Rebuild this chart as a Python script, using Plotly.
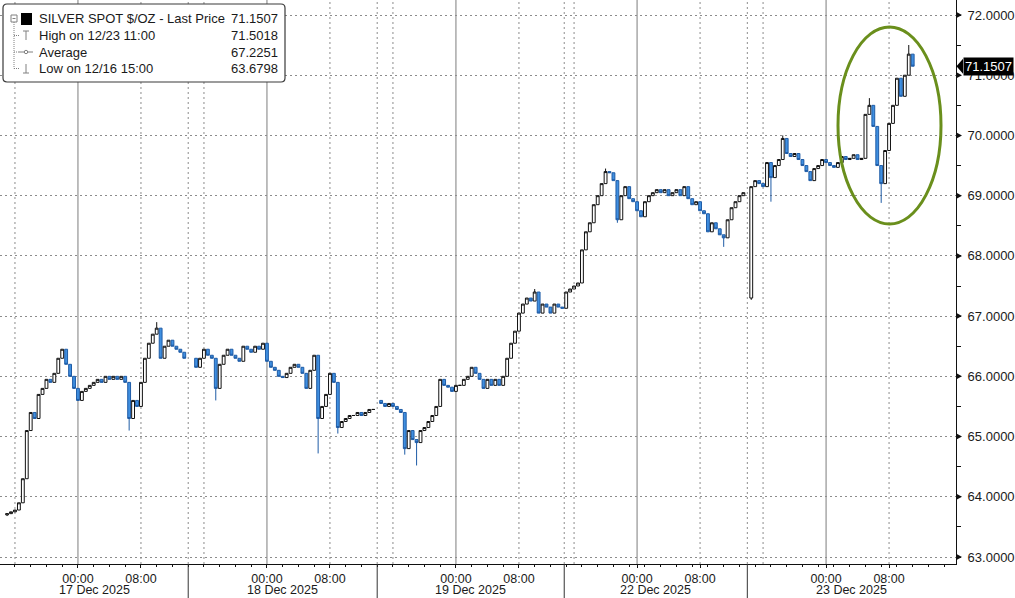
import plotly.graph_objects as go

# ---------------- data ----------------
# Time axis is "trading hours" since 17 Dec 2025 00:00 (weekend compressed), 30-min bars
BAR_HOURS = 0.5
SESSION_STARTS = [-9.0, 15.0, 38.5, 62.0, 85.5]
SESSION_OPENS = [63.70, 66.30, 65.60, 67.13, 67.30]

closes_17dec = [63.72, 63.75, 63.78, 63.90, 64.30, 65.10, 65.40, 65.30, 65.70, 65.80,
                65.95, 65.90, 66.05, 66.30, 66.45, 66.20, 66.00, 65.80, 65.60, 65.75,
                65.80, 65.85, 65.90, 65.95, 65.90, 66.00, 65.95, 66.00, 65.95, 66.00,
                65.90, 65.30, 65.60, 65.50, 65.90, 66.30, 66.55, 66.70, 66.80, 66.30,
                66.50, 66.60, 66.50, 66.45, 66.40, 66.30]
closes_18dec = [66.15, 66.30, 66.45, 66.35, 66.30, 65.80, 66.20, 66.35, 66.45, 66.35,
                66.30, 66.25, 66.50, 66.45, 66.40, 66.50, 66.45, 66.55, 66.25, 66.15,
                66.10, 66.00, 65.98, 66.05, 66.15, 66.20, 66.15, 66.05, 65.80, 66.10,
                66.35, 65.30, 65.50, 65.70, 66.05, 65.90, 65.15, 65.25, 65.30, 65.35,
                65.35, 65.40, 65.35, 65.40, 65.45, 65.45]
closes_19dec = [65.55, 65.50, 65.55, 65.50, 65.45, 65.40, 64.80, 65.10, 64.95, 64.90,
                65.10, 65.15, 65.25, 65.35, 65.50, 65.95, 65.85, 65.82, 65.75, 65.85,
                65.85, 65.95, 66.00, 66.15, 66.05, 65.95, 65.80, 65.95, 65.85, 65.95,
                65.85, 66.00, 66.30, 66.55, 66.75, 67.05, 67.20, 67.30, 67.25, 67.40,
                67.05, 67.20, 67.15, 67.05, 67.20, 67.15, 67.13]
closes_22dec = [67.40, 67.45, 67.50, 67.55, 68.10, 68.40, 68.55, 68.85, 69.00, 69.20,
                69.40, 69.38, 69.25, 68.60, 69.00, 69.15, 68.95, 68.90, 68.75, 68.65,
                68.90, 69.00, 69.05, 69.10, 69.05, 69.10, 69.00, 69.05, 69.10, 69.00,
                69.15, 68.95, 68.85, 68.90, 68.75, 68.70, 68.40, 68.55, 68.45, 68.35,
                68.30, 68.60, 68.80, 68.90, 69.00, 69.05]
closes_23dec = [69.15, 69.25, 69.20, 69.15, 69.55, 69.30, 69.50, 69.60, 69.95, 69.70,
                69.65, 69.70, 69.60, 69.50, 69.40, 69.25, 69.45, 69.50, 69.60, 69.55,
                69.50, 69.47, 69.55, 69.65, 69.60, 69.62, 69.68, 69.60, 69.62, 70.35,
                70.50, 70.15, 69.50, 69.20, 69.75, 70.20, 70.50, 70.95, 70.65, 71.00,
                71.35, 71.15]
SESSION_CLOSES = [closes_17dec, closes_18dec, closes_19dec, closes_22dec, closes_23dec]

LOW_WICKS = {-9.0: 63.68, 6.5: 65.10, 17.5: 65.60, 30.5: 64.72, 33.0: 65.05,
             41.5: 64.70, 43.0: 64.52, 68.5: 68.55, 82.0: 68.15, 85.5: 67.27,
             88.0: 68.90, 102.0: 68.88}
HIGH_WICKS = {10.0: 66.90, 58.0: 67.45, 67.0: 69.45, 89.5: 70.00, 100.5: 70.62,
              105.5: 71.5018}

TICK_TIMES = [0, 8, 24, 32, 48, 56, 71, 79, 95, 103]
TICK_TEXT = ["00:00", "08:00"] * 5
MIDNIGHTS = [0, 24, 48, 71, 95]
GRID_TIMES = [-8, 8, 16, 32, 40, 56, 63, 79, 87, 103]
DAY_BREAKS = [14, 38, 61.75, 85]
DAY_LABELS = ["17 Dec 2025", "18 Dec 2025", "19 Dec 2025", "22 Dec 2025", "23 Dec 2025"]
PRICE_TICKS = [63, 64, 65, 66, 67, 68, 69, 70, 71, 72]

TITLE = "SILVER SPOT $/OZ - Last Price"
LAST_PRICE = 71.1507
HIGH_LABEL, HIGH_PRICE = "High on 12/23 11:00", 71.5018
AVG_LABEL, AVG_PRICE = "Average", 67.2251
LOW_LABEL, LOW_PRICE = "Low on 12/16 15:00", 63.6798

X_RANGE = [-9.9, 111.5]
Y_RANGE = [62.884, 72.249]

# ---------------- build OHLC ----------------
xs, op, hi, lo, cl = [], [], [], [], []
for start, first_open, closes in zip(SESSION_STARTS, SESSION_OPENS, SESSION_CLOSES):
    prev = first_open
    for i, c in enumerate(closes):
        t = round(start + i * BAR_HOURS, 2)
        xs.append(t)
        op.append(prev)
        cl.append(c)
        hi.append(max(prev, c, HIGH_WICKS.get(t, c)))
        lo.append(min(prev, c, LOW_WICKS.get(t, c)))
        prev = c

W, H = 1015, 598
ML, MR, MT, MB = 0, 59, 0, 34
PW, PH = W - ML - MR, H - MT - MB
FONT = "Liberation Sans, Arial, sans-serif"
TXT = "#1a1a1a"


def px(x):
    return x / PW


def py(y):
    return 1 - y / PH


fig = go.Figure()
fig.add_trace(go.Candlestick(
    x=xs, open=op, high=hi, low=lo, close=cl,
    increasing=dict(line=dict(color="#111111", width=1), fillcolor="#ffffff"),
    decreasing=dict(line=dict(color="#1f5ca6", width=1), fillcolor="#3f8fe0"),
    whiskerwidth=0, showlegend=False, hoverinfo="skip",
))

shapes = []
# vertical grid lines
for t in MIDNIGHTS:
    shapes.append(dict(type="line", xref="x", yref="paper", x0=t, x1=t, y0=0, y1=1,
                       line=dict(color="#7d7d7d", width=1), layer="below"))
for t in GRID_TIMES + DAY_BREAKS:
    shapes.append(dict(type="line", xref="x", yref="paper", x0=t, x1=t, y0=0, y1=1,
                       line=dict(color="#8c8c8c", width=1, dash="2px,3px"), layer="below"))
# day separators in axis band
for t in DAY_BREAKS:
    shapes.append(dict(type="line", xref="x", yref="paper", x0=t, x1=t, y0=0, y1=-MB / PH,
                       line=dict(color="#333333", width=1)))
# price tick arrows
ah = 3.0 / 60.2
for v in PRICE_TICKS:
    shapes.append(dict(type="path", xref="paper", yref="y",
                       path=f"M 1.0005 {v - ah} L {px(PW + 6)} {v} L 1.0005 {v + ah} Z",
                       fillcolor="#111111", line=dict(width=0)))
# last-price tag arrow
th = 7.5 / 60.2
shapes.append(dict(type="path", xref="paper", yref="y",
                   path=f"M 1.0005 {LAST_PRICE} L {px(PW + 7)} {LAST_PRICE + th} "
                        f"L {px(PW + 7)} {LAST_PRICE - th} Z",
                   fillcolor="#000000", line=dict(width=0)))
# green ellipse highlight
shapes.append(dict(type="circle", xref="paper", yref="paper",
                   x0=px(838), x1=px(941), y0=py(224), y1=py(27),
                   line=dict(color="#6a8f1c", width=3)))

# legend box (rounded)
x0, x1, y0, y1, r = 3, 285, 4, 82, 4
path = (f"M {px(x0 + r)} {py(y0)} L {px(x1 - r)} {py(y0)} Q {px(x1)} {py(y0)} {px(x1)} {py(y0 + r)} "
        f"L {px(x1)} {py(y1 - r)} Q {px(x1)} {py(y1)} {px(x1 - r)} {py(y1)} "
        f"L {px(x0 + r)} {py(y1)} Q {px(x0)} {py(y1)} {px(x0)} {py(y1 - r)} "
        f"L {px(x0)} {py(y0 + r)} Q {px(x0)} {py(y0)} {px(x0 + r)} {py(y0)} Z")
shapes.append(dict(type="path", xref="paper", yref="paper", path=path,
                   fillcolor="white", line=dict(color="#3a3a3a", width=1.2)))

ROWS = [19, 35.5, 52, 68.5]
G = "#808080"


def seg(xa, ya, xb, yb, color=G, width=1, dash=None):
    ln = dict(color=color, width=width)
    if dash:
        ln["dash"] = dash
    return dict(type="line", xref="paper", yref="paper",
                x0=px(xa), y0=py(ya), x1=px(xb), y1=py(yb), line=ln)


# tree
shapes.append(seg(14, 22, 14, ROWS[3], dash="1px,1px"))
for yy in ROWS[1:]:
    shapes.append(seg(14, yy, 19, yy, dash="1px,1px"))
# collapse box
shapes.append(dict(type="rect", xref="paper", yref="paper", x0=px(11), x1=px(17),
                   y0=py(22), y1=py(15), line=dict(color=G, width=1), fillcolor="white"))
shapes.append(seg(12.5, 18.5, 15.5, 18.5))
# black square
shapes.append(dict(type="rect", xref="paper", yref="paper", x0=px(21), x1=px(32),
                   y0=py(25), y1=py(13), line=dict(width=0), fillcolor="black"))
# high icon
shapes.append(seg(26, 31, 26, 40))
shapes.append(seg(23, 31, 29, 31))
# average icon
shapes.append(seg(19, 52, 33, 52))
shapes.append(dict(type="circle", xref="paper", yref="paper", x0=px(24.3), x1=px(27.7),
                   y0=py(53.7), y1=py(50.3), line=dict(color=G, width=1), fillcolor="white"))
# low icon
shapes.append(seg(26, 64, 26, 73))
shapes.append(seg(23, 73, 29, 73))

annotations = []
labels = [TITLE, HIGH_LABEL, AVG_LABEL, LOW_LABEL]
values = [LAST_PRICE, HIGH_PRICE, AVG_PRICE, LOW_PRICE]
for yy, lab, val in zip(ROWS, labels, values):
    annotations.append(dict(xref="paper", yref="paper", x=px(37), y=py(yy), text=lab,
                            showarrow=False, xanchor="left", yanchor="middle",
                            font=dict(family=FONT, size=13, color=TXT)))
    annotations.append(dict(xref="paper", yref="paper", x=px(280), y=py(yy), text=f"{val:.4f}",
                            showarrow=False, xanchor="right", yanchor="middle",
                            font=dict(family=FONT, size=13, color=TXT)))

# day labels, centred between separators
bounds = [X_RANGE[0]] + DAY_BREAKS + [X_RANGE[1]]
for i, lab in enumerate(DAY_LABELS):
    annotations.append(dict(xref="x", yref="paper", x=(bounds[i] + bounds[i + 1]) / 2,
                            y=-(590 - PH) / PH, text=lab, showarrow=False,
                            xanchor="center", yanchor="middle",
                            font=dict(family=FONT, size=12.5, color=TXT)))

# last price tag
annotations.append(dict(xref="paper", yref="y", x=px(PW + 7), y=LAST_PRICE,
                        text=f"{LAST_PRICE:.4f}", showarrow=False, xanchor="left",
                        yanchor="middle", bgcolor="black", borderpad=1,
                        font=dict(family=FONT, size=13, color="white")))

fig.update_layout(
    width=W, height=H,
    margin=dict(l=ML, r=MR, t=MT, b=MB, pad=0),
    paper_bgcolor="white", plot_bgcolor="white",
    showlegend=False,
    boxgap=0.2, boxgroupgap=0.1,
    shapes=shapes, annotations=annotations,
    xaxis=dict(range=X_RANGE, rangeslider=dict(visible=False),
               tickmode="array", tickvals=TICK_TIMES, ticktext=TICK_TEXT,
               ticks="outside", ticklen=3, tickcolor="#111", tickwidth=1,
               showline=True, linecolor="#111", linewidth=1, mirror=False,
               showgrid=False, zeroline=False,
               tickfont=dict(family=FONT, size=12.5, color=TXT),
               minor=dict(dtick=2, tick0=0, ticks="outside", ticklen=2, tickcolor="#111",
                          showgrid=False)),
    yaxis=dict(range=Y_RANGE, side="right",
               tickmode="array", tickvals=PRICE_TICKS,
               ticktext=[f"{v:.4f}" for v in PRICE_TICKS],
               ticks="", ticklabelstandoff=8,
               showline=True, linecolor="#111", linewidth=1,
               showgrid=True, gridcolor="#8c8c8c", griddash="2px,3px", gridwidth=1,
               zeroline=False,
               tickfont=dict(family=FONT, size=13, color=TXT),
               minor=dict(dtick=0.5, tick0=0, ticks="outside", ticklen=4, tickcolor="#111",
                          showgrid=False)),
)

fig.write_html("out.html", config={"displayModeBar": False},
               post_script="document.body.style.margin='0';document.body.style.overflow='hidden';")
